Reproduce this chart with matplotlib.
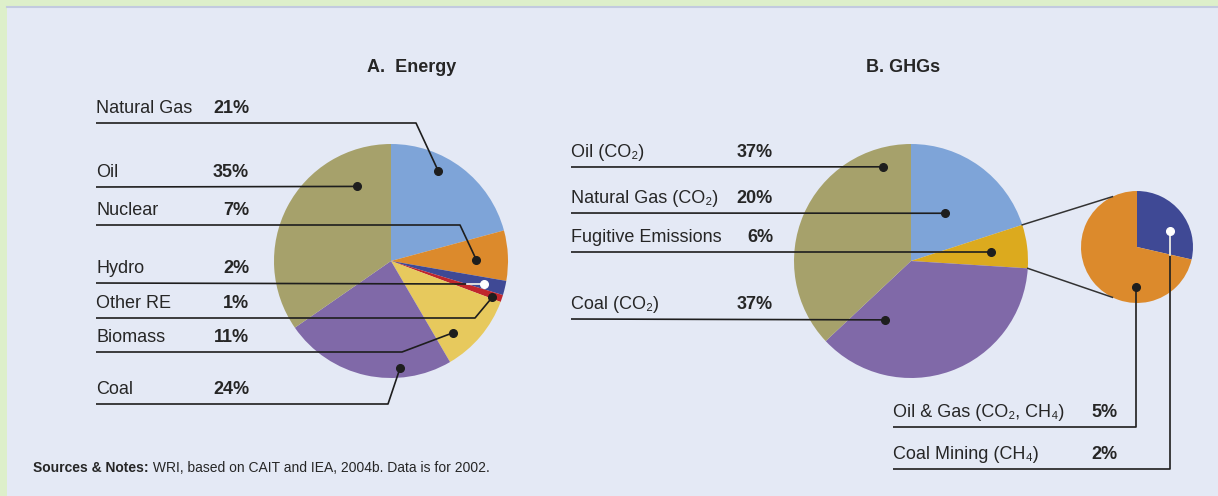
import numpy as np
import matplotlib.pyplot as plt
from matplotlib.patches import Rectangle

plt.rcParams['font.family'] = ['Liberation Sans', 'DejaVu Sans']

W, H = 1218, 496

# A. Energy (shares, clockwise from 12 o'clock)
energy_labels = ['Natural Gas', 'Nuclear', 'Hydro', 'Other RE', 'Biomass', 'Coal', 'Oil']
energy_share = [21, 7, 2, 1, 11, 24, 35]
energy_colors = ['#7ea4d8', '#dc8a2c', '#3f4995', '#c0262d', '#e7c95d', '#8069a8', '#a6a16b']

# B. GHGs
ghg_labels = ['Natural Gas (CO₂)', 'Fugitive Emissions', 'Coal (CO₂)', 'Oil (CO₂)']
ghg_share = [20, 6, 37, 37]
ghg_colors = ['#7ea4d8', '#dcaa1e', '#8069a8', '#a6a16b']

# fugitive emissions split
fug_labels = ['Coal Mining (CH₄)', 'Oil & Gas (CO₂, CH₄)']
fug_share = [2, 5]
fug_colors = ['#3f4995', '#dc8a2c']

TXT = '#262626'
FS = 13


def py(y):
    return H - y


def dot_pos(w, ang, frac):
    a = np.radians(ang)
    cx, cy = w.center
    return cx + frac * w.r * np.cos(a), cy + frac * w.r * np.sin(a)


fig = plt.figure(figsize=(W / 100, H / 100), dpi=100)
fig.patch.set_facecolor('#ddefca')
ax = fig.add_axes([0, 0, 1, 1])
ax.add_patch(Rectangle((7, 0), W - 7, H - 7, facecolor='#e4e9f5', edgecolor='none', zorder=0))
ax.plot([7, W], [py(7), py(7)], color='#c2cadf', lw=1.5, zorder=0.5)

wp = dict(linewidth=0)
wa, _ = ax.pie(energy_share, colors=energy_colors, startangle=90, counterclock=False,
               center=(391, py(261)), radius=117, frame=True, wedgeprops=wp)
wb, _ = ax.pie(ghg_share, colors=ghg_colors, startangle=90, counterclock=False,
               center=(911, py(261)), radius=117, frame=True, wedgeprops=wp)
wc, _ = ax.pie(fug_share, colors=fug_colors, startangle=90, counterclock=False,
               center=(1137, py(247)), radius=56, frame=True, wedgeprops=wp)

lk = dict(color='#1e1e1e', lw=1.2, zorder=3, solid_capstyle='butt')


def label(x0, xp, ul, name, pct):
    ax.text(x0, py(ul) + 6, name, ha='left', va='bottom', fontsize=FS, color=TXT)
    ax.text(xp, py(ul) + 6, pct, ha='right', va='bottom', fontsize=FS,
            fontweight='bold', color=TXT)


# --- panel A leaders: label -> (underline y, elbow x, dot angle, dot radius frac)
a_rows = {
    'Natural Gas': (123, 416, 62.4, 0.87),
    'Oil': (187, None, 114.4, 0.70),
    'Nuclear': (225, 460, 0.7, 0.73),
    'Hydro': (283, None, -13.9, 0.82),
    'Other RE': (318, 475, -19.6, 0.92),
    'Biomass': (352, 402, -49.3, 0.81),
    'Coal': (404, 388, -85.2, 0.92),
}
for name, (ul, ex, ang, fr) in a_rows.items():
    i = energy_labels.index(name)
    w = wa[i]
    dx, dy = dot_pos(w, ang, fr)
    label(96, 249, ul, name, f'{energy_share[i]}%')
    xs, ys = [96], [py(ul)]
    if ex is not None:
        xs.append(ex)
        ys.append(py(ul))
    xs.append(dx)
    ys.append(dy)
    ax.plot(xs, ys, **lk)
    fc = '#1e1e1e'
    if name == 'Hydro':
        cx, cy = w.center
        xin = cx + (dy - cy) / np.tan(np.radians(w.theta1))
        ax.plot([xin, dx], [dy, dy], color='white', lw=1.2, zorder=3.5)
        fc = 'white'
    ax.plot(dx, dy, 'o', ms=5.5, color=fc, zorder=4)

# --- panel B leaders
b_rows = {
    'Oil (CO₂)': (167, 106.6, 0.84),
    'Natural Gas (CO₂)': (213, 54.7, 0.50),
    'Fugitive Emissions': (252, 6.4, 0.69),
    'Coal (CO₂)': (319, -113.8, 0.55),
}
for name, (ul, ang, fr) in b_rows.items():
    i = ghg_labels.index(name)
    dx, dy = dot_pos(wb[i], ang, fr)
    label(571, 773, ul, name, f'{ghg_share[i]}%')
    ax.plot([571, dx], [py(ul), dy], **lk)
    ax.plot(dx, dy, 'o', ms=5.5, color='#1e1e1e', zorder=4)

# connectors from fugitive wedge to the breakdown pie
wf = wb[ghg_labels.index('Fugitive Emissions')]
cbx, cby = wf.center
csx, csy = wc[0].center
for t_big, t_small in [(wf.theta2, 116), (wf.theta1, -116)]:
    a, b = np.radians(t_big), np.radians(t_small)
    ax.plot([cbx + wf.r * np.cos(a), csx + wc[0].r * np.cos(b)],
            [cby + wf.r * np.sin(a), csy + wc[0].r * np.sin(b)],
            color='#333333', lw=1.1, zorder=3)

# --- breakdown leaders (vertical drops)
c_rows = {
    'Oil & Gas (CO₂, CH₄)': (427, -91.4, 0.71),
    'Coal Mining (CH₄)': (469, 25.9, 0.66),
}
for name, (ul, ang, fr) in c_rows.items():
    i = fug_labels.index(name)
    w = wc[i]
    dx, dy = dot_pos(w, ang, fr)
    label(893, 1118, ul, name, f'{fug_share[i]}%')
    ax.plot([893, dx, dx], [py(ul), py(ul), dy], **lk)
    fc = '#1e1e1e'
    if name.startswith('Coal'):
        cx, cy = w.center
        yout = cy + (dx - cx) * np.tan(np.radians(w.theta1))
        ax.plot([dx, dx], [dy, yout], color='white', lw=1.2, zorder=3.5)
        fc = 'white'
    ax.plot(dx, dy, 'o', ms=5.5, color=fc, zorder=4)

# titles
ax.text(412, py(68), 'A.  Energy', ha='center', va='center', fontsize=13,
        fontweight='bold', color=TXT)
ax.text(903, py(68), 'B. GHGs', ha='center', va='center', fontsize=13,
        fontweight='bold', color=TXT)

# footnote
t1 = ax.text(33, py(468), 'Sources & Notes:', ha='left', va='center', fontsize=10,
             fontweight='bold', color=TXT)
ax.annotate(' WRI, based on CAIT and IEA, 2004b. Data is for 2002.', xy=(1, 0.5),
            xycoords=t1, ha='left', va='center', fontsize=10, color=TXT)

ax.set_xlim(0, W)
ax.set_ylim(0, H)
ax.set_axis_off()
fig.savefig('out.png', dpi=100, facecolor=fig.get_facecolor())
